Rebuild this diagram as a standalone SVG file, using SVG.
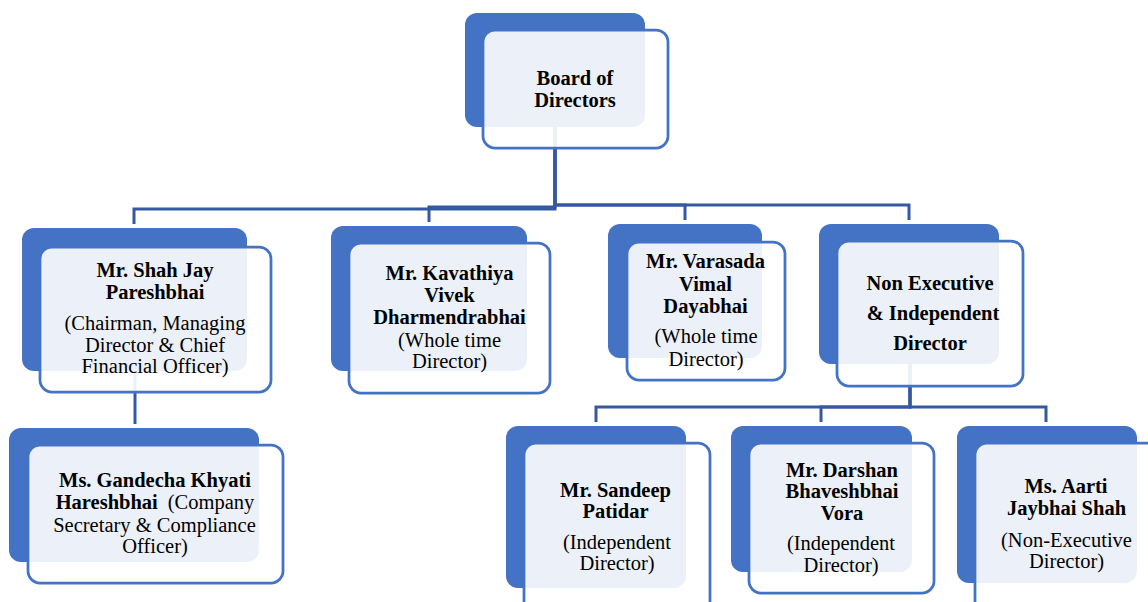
<svg xmlns="http://www.w3.org/2000/svg" width="1148" height="602" viewBox="0 0 1148 602">
<style>
.bk{fill:#4472C4}
.fr{fill:#FFFFFF;fill-opacity:0.9;stroke:#4472C4;stroke-width:2.75}
.cn{fill:none;stroke:#3559A0;stroke-width:3}
.t text{font-size:20.5px;fill:#000;text-anchor:middle}
.b{font-weight:bold}
</style>
<rect width="1148" height="602" fill="#FFFFFF"/>
<g id="connectors">
<path class="cn" d="M555,127 V209 H134 V224"/>
<path class="cn" d="M555,127 V207 H429 V222"/>
<path class="cn" d="M555,127 V205 H685 V220"/>
<path class="cn" d="M555,127 V205 H909 V220"/>
<path class="cn" d="M135,371 V424"/>
<path class="cn" d="M910,364 V407 H596 V422"/>
<path class="cn" d="M910,364 V407 H821 V422"/>
<path class="cn" d="M910,364 V407 H1046 V422"/>
</g>
<g class="t" font-family="Liberation Serif, Tinos, Times New Roman, DejaVu Serif, serif">
<g id="board">
<rect class="bk" x="465" y="13" width="180" height="114" rx="12"/>
<rect class="fr" x="483" y="30" width="185" height="118" rx="12"/>
<text class="b" x="575" y="85">Board of</text>
<text class="b" x="575" y="107">Directors</text>
</g>
<g id="shah">
<rect class="bk" x="22" y="228" width="225" height="143" rx="12"/>
<rect class="fr" x="40" y="247" width="231" height="145" rx="12"/>
<text class="b" x="155" y="277">Mr. Shah Jay</text>
<text class="b" x="155" y="299">Pareshbhai</text>
<text x="155" y="330">(Chairman, Managing</text>
<text x="155" y="352">Director &amp; Chief</text>
<text x="155" y="373">Financial Officer)</text>
</g>
<g id="kavathiya">
<rect class="bk" x="331" y="226" width="196" height="145" rx="12"/>
<rect class="fr" x="349" y="243" width="201" height="150" rx="12"/>
<text class="b" x="449.5" y="280">Mr. Kavathiya</text>
<text class="b" x="449.5" y="302">Vivek</text>
<text class="b" x="449.5" y="324">Dharmendrabhai</text>
<text x="449.5" y="347">(Whole time</text>
<text x="449.5" y="368">Director)</text>
</g>
<g id="varasada">
<rect class="bk" x="608" y="224" width="154" height="134" rx="12"/>
<rect class="fr" x="627" y="242" width="158" height="138" rx="12"/>
<text class="b" x="705.5" y="268">Mr. Varasada</text>
<text class="b" x="705.5" y="291">Vimal</text>
<text class="b" x="705.5" y="313">Dayabhai</text>
<text x="706" y="343">(Whole time</text>
<text x="706" y="366">Director)</text>
</g>
<g id="nonexec">
<rect class="bk" x="819" y="224" width="180" height="140" rx="12"/>
<rect class="fr" x="837" y="241" width="186" height="145" rx="12"/>
<text class="b" x="930" y="290">Non Executive</text>
<text class="b" x="933" y="320">&amp; Independent</text>
<text class="b" x="930" y="350">Director</text>
</g>
<g id="gandecha">
<rect class="bk" x="9" y="428" width="250" height="134" rx="12"/>
<rect class="fr" x="28" y="445" width="255" height="138" rx="12"/>
<text class="b" x="155" y="487">Ms. Gandecha Khyati</text>
<text x="155" y="509"><tspan class="b">Hareshbhai</tspan><tspan dx="10">(Company</tspan></text>
<text x="154.5" y="532">Secretary &amp; Compliance</text>
<text x="155" y="553">Officer)</text>
</g>
<g id="sandeep">
<rect class="bk" x="506" y="426" width="180" height="162" rx="12"/>
<rect class="fr" x="524" y="443" width="186" height="172" rx="12"/>
<text class="b" x="615.5" y="497">Mr. Sandeep</text>
<text class="b" x="615.5" y="518">Patidar</text>
<text x="617" y="549">(Independent</text>
<text x="617" y="570">Director)</text>
</g>
<g id="darshan">
<rect class="bk" x="731" y="426" width="181" height="146" rx="12"/>
<rect class="fr" x="749" y="443" width="185" height="150" rx="12"/>
<text class="b" x="842" y="477">Mr. Darshan</text>
<text class="b" x="842" y="498">Bhaveshbhai</text>
<text class="b" x="842" y="520">Vora</text>
<text x="841" y="550">(Independent</text>
<text x="841" y="572">Director)</text>
</g>
<g id="aarti">
<rect class="bk" x="957" y="426" width="180" height="157" rx="12"/>
<rect class="fr" x="975" y="443" width="190" height="172" rx="12"/>
<text class="b" x="1066" y="493">Ms. Aarti</text>
<text class="b" x="1066.5" y="515">Jaybhai Shah</text>
<text x="1066.5" y="547">(Non-Executive</text>
<text x="1066.5" y="568">Director)</text>
</g>
</g>
</svg>
